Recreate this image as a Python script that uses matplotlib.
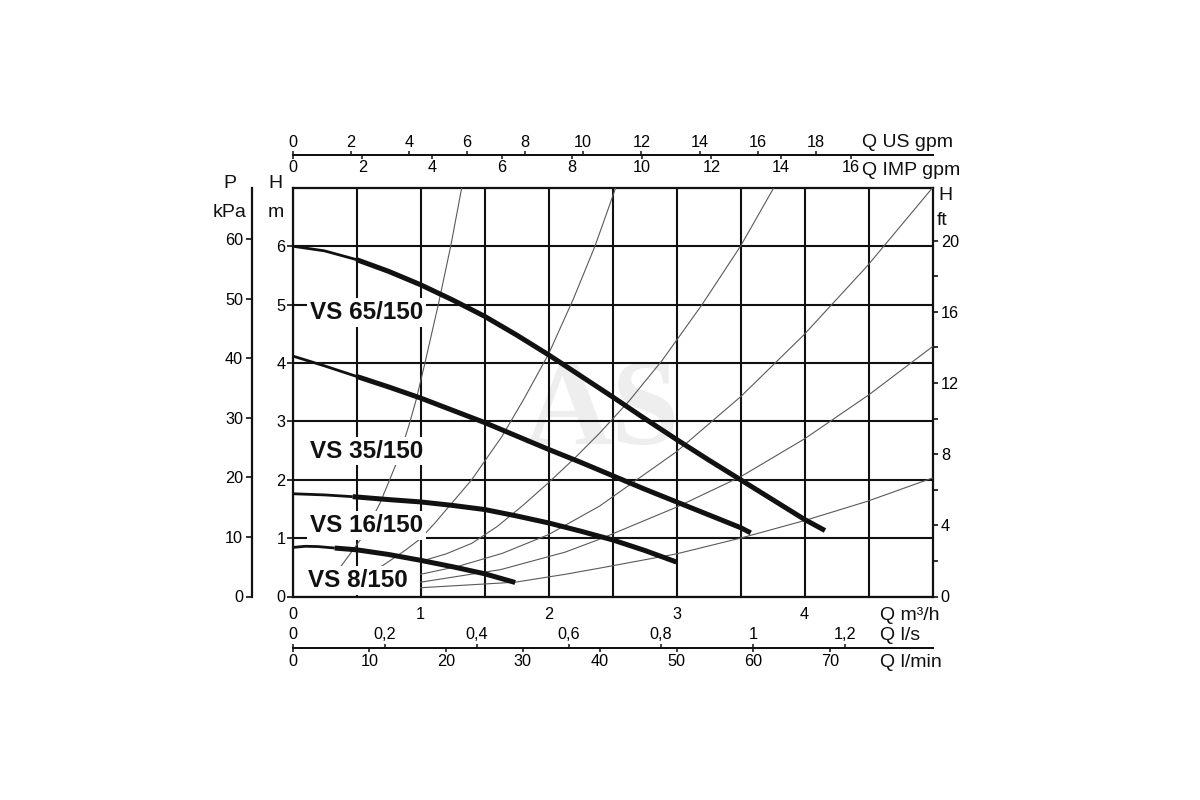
import matplotlib
matplotlib.use("Agg")
import matplotlib.pyplot as plt

plt.rcParams['font.family'] = ['Liberation Sans', 'DejaVu Sans']

# ---------------- data (Q in m3/h, H in m) ----------------
pump_names = ["VS 65/150", "VS 35/150", "VS 16/150", "VS 8/150"]

vs65_q = [0, 0.25, 0.5, 0.75, 1.0, 1.25, 1.5, 1.75, 2.0, 2.25, 2.5, 2.75, 3.0, 3.25, 3.5, 3.75, 4.0, 4.16]
vs65_h = [6.0, 5.92, 5.77, 5.57, 5.34, 5.08, 4.80, 4.48, 4.14, 3.78, 3.42, 3.05, 2.69, 2.34, 2.0, 1.66, 1.32, 1.13]

vs35_q = [0, 0.25, 0.5, 0.75, 1.0, 1.25, 1.5, 1.75, 2.0, 2.25, 2.5, 2.75, 3.0, 3.25, 3.5, 3.58]
vs35_h = [4.12, 3.95, 3.77, 3.59, 3.40, 3.19, 2.98, 2.75, 2.52, 2.30, 2.07, 1.84, 1.62, 1.40, 1.18, 1.09]

vs16_q = [0, 0.25, 0.47, 0.75, 1.0, 1.25, 1.5, 1.75, 2.0, 2.25, 2.5, 2.75, 3.0]
vs16_h = [1.76, 1.74, 1.71, 1.66, 1.62, 1.56, 1.49, 1.38, 1.26, 1.12, 0.97, 0.79, 0.59]

vs8_q = [0, 0.1, 0.2, 0.33, 0.5, 0.75, 1.0, 1.25, 1.5, 1.74]
vs8_h = [0.84, 0.86, 0.855, 0.83, 0.80, 0.72, 0.62, 0.51, 0.39, 0.24]

thin_until = [0.5, 0.5, 0.47, 0.33]

label_q = [0.137, 0.137, 0.137, 0.123]
label_h = [4.75, 2.38, 1.11, 0.168]

# system (pipe) curves
sysA_q = [0.30, 0.40, 0.54, 0.684, 0.83, 0.908, 0.965, 1.035, 1.139, 1.236, 1.322]
sysA_h = [0.30, 0.58, 1.0, 1.60, 2.38, 2.92, 3.36, 4.0, 5.0, 6.0, 7.0]
sysB_q = [0.65, 0.766, 0.88, 1.0, 1.113, 1.40, 1.636, 1.807, 2.0, 2.195, 2.363, 2.525]
sysB_h = [0.45, 0.62, 0.79, 0.99, 1.26, 2.0, 2.74, 3.38, 4.15, 5.1, 6.0, 7.0]
sysC_q = [1.0, 1.2, 1.4, 1.6, 1.8, 2.0, 2.2, 2.4, 2.63, 2.89, 3.2, 3.5, 3.76]
sysC_h = [0.60, 0.73, 0.91, 1.20, 1.56, 1.95, 2.36, 2.80, 3.35, 4.05, 5.0, 6.0, 7.0]
sysD_q = [1.0, 1.3, 1.64, 2.0, 2.4, 3.0, 3.5, 3.99, 4.49, 5.0]
sysD_h = [0.38, 0.52, 0.74, 1.06, 1.55, 2.48, 3.42, 4.47, 5.66, 7.0]
sysE_q = [1.0, 1.625, 2.13, 2.41, 3.0, 3.5, 4.0, 4.5, 5.0]
sysE_h = [0.245, 0.46, 0.76, 0.99, 1.53, 2.05, 2.70, 3.45, 4.28]
sysF_q = [1.0, 1.74, 2.13, 2.41, 3.0, 3.5, 4.0, 4.49, 5.0]
sysF_h = [0.15, 0.245, 0.38, 0.49, 0.73, 1.0, 1.30, 1.63, 2.03]

# axis ticks
m3h_ticks = [0, 1, 2, 3, 4]
m_ticks = [0, 1, 2, 3, 4, 5, 6]
kpa_ticks = [0, 10, 20, 30, 40, 50, 60]
ft_major = [0, 4, 8, 12, 16, 20]
ft_minor = [2, 6, 10, 14, 18]
usgpm_ticks = [0, 2, 4, 6, 8, 10, 12, 14, 16, 18]
impgpm_ticks = [0, 2, 4, 6, 8, 10, 12, 14, 16]
ls_ticks = [0, 0.2, 0.4, 0.6, 0.8, 1.0, 1.2]
ls_labels = ["0", "0,2", "0,4", "0,6", "0,8", "1", "1,2"]
lmin_ticks = [0, 10, 20, 30, 40, 50, 60, 70]

# ---------------- figure ----------------
W, H = 1200, 800
fig = plt.figure(figsize=(12, 8), dpi=100)
x0, x1 = 292.5, 932.5
y0, y1 = 596.5, 187.8
ax = fig.add_axes([x0 / W, 1 - y0 / H, (x1 - x0) / W, (y0 - y1) / H])
ax.set_xlim(0, 5)
ax.set_ylim(0, 7)

BLACK = '#111111'
TICK_FS = 11.7
UNIT_FS = 14

ax.set_xticks(m3h_ticks)
ax.set_xticks([0.5, 1.5, 2.5, 3.5, 4.5], minor=True)
ax.set_yticks(m_ticks)
ax.grid(True, which='both', color=BLACK, lw=1.5)
ax.set_axisbelow(False)
for s in ax.spines.values():
    s.set_color(BLACK)
    s.set_linewidth(1.6)
ax.tick_params(axis='x', which='both', length=0, pad=7.5, labelsize=TICK_FS)
ax.tick_params(axis='y', which='major', length=4, width=1.2, pad=1,
               labelsize=TICK_FS, color=BLACK)

# watermark
ax.text(2.42, 2.62, "AS", fontsize=88, fontweight='bold', color='#eeeeee',
        family=['Liberation Serif', 'DejaVu Serif'], ha='center', va='baseline', zorder=0.5)

# system curves
for q, h in [(sysA_q, sysA_h), (sysB_q, sysB_h), (sysC_q, sysC_h),
             (sysD_q, sysD_h), (sysE_q, sysE_h), (sysF_q, sysF_h)]:
    ax.plot(q, h, color='#5a5a5a', lw=0.8, zorder=3, solid_joinstyle='round')

# pump curves
pumps = [(vs65_q, vs65_h), (vs35_q, vs35_h), (vs16_q, vs16_h), (vs8_q, vs8_h)]
for (q, h), split in zip(pumps, thin_until):
    i = q.index(split)
    ax.plot(q[:i + 1], h[:i + 1], color=BLACK, lw=2.0, zorder=6, solid_capstyle='butt')
    ax.plot(q[i:], h[i:], color=BLACK, lw=3.6, zorder=6, solid_capstyle='butt',
            solid_joinstyle='round')

# pump labels with white boxes
for name, lq, lh in zip(pump_names, label_q, label_h):
    ax.text(lq, lh, name, fontsize=17.5, fontweight='bold', color=BLACK,
            ha='left', va='baseline', zorder=5,
            bbox=dict(boxstyle='square,pad=0.12', fc='white', ec='none'))

# ---------------- secondary axes ----------------
G = 9.80665
kpa = ax.secondary_yaxis((252 - x0) / (x1 - x0),
                         functions=(lambda h: h * G, lambda p: p / G))
kpa.set_yticks(kpa_ticks)
kpa.spines['left'].set_color(BLACK)
kpa.spines['left'].set_linewidth(1.6)
kpa.tick_params(length=4, width=1.2, pad=2.5, labelsize=TICK_FS, color=BLACK)

ft = ax.secondary_yaxis('right', functions=(lambda h: h / 0.3048, lambda f: f * 0.3048))
ft.set_yticks(ft_major)
ft.set_yticks(ft_minor, minor=True)
ft.spines['right'].set_visible(False)
ft.tick_params(which='both', length=3.5, width=1.2, pad=2.5, labelsize=TICK_FS, color=BLACK)

top_loc = (y0 - 155) / (y0 - y1)
us = ax.secondary_xaxis(top_loc, functions=(lambda q: q * 4.402868, lambda g: g / 4.402868))
us.set_xticks(usgpm_ticks)
us.spines['top'].set_color(BLACK)
us.spines['top'].set_linewidth(1.4)
us.tick_params(length=2.8, width=1.1, pad=0.5, labelsize=TICK_FS, color=BLACK)

imp = ax.secondary_xaxis(top_loc, functions=(lambda q: q * 3.666154, lambda g: g / 3.666154))
imp.set_alignment('bottom')
imp.set_xticks(impgpm_ticks)
imp.spines['bottom'].set_color(BLACK)
imp.spines['bottom'].set_linewidth(1.4)
imp.tick_params(length=2.8, width=1.1, pad=1.0, labelsize=TICK_FS, color=BLACK)

bot_loc = (y0 - 647.7) / (y0 - y1)
lmin = ax.secondary_xaxis(bot_loc, functions=(lambda q: q / 0.06, lambda l: l * 0.06))
lmin.set_xticks(lmin_ticks)
lmin.spines['bottom'].set_color(BLACK)
lmin.spines['bottom'].set_linewidth(1.4)
lmin.tick_params(length=3, width=1.1, pad=1.5, labelsize=TICK_FS, color=BLACK)

ls = ax.secondary_xaxis(bot_loc, functions=(lambda q: q / 3.6, lambda l: l * 3.6))
ls.set_alignment('top')
ls.set_xticks(ls_ticks, labels=ls_labels)
ls.spines['top'].set_color(BLACK)
ls.spines['top'].set_linewidth(1.4)
ls.tick_params(length=3, width=1.1, pad=1.0, labelsize=TICK_FS, color=BLACK)

# ---------------- unit labels ----------------
def ftxt(x, y, s, ha='left', **kw):
    fig.text(x / W, 1 - y / H, s, ha=ha, va='baseline', fontsize=UNIT_FS, color=BLACK, **kw)

ftxt(230, 188.3, "P", ha='center')
ftxt(230, 216.7, "kPa", ha='center')
ftxt(275, 188.3, "H", ha='center')
ftxt(276, 216.7, "m", ha='center')
ftxt(938, 200, "H")
ftxt(937, 225, "ft")
ftxt(861.7, 146.7, "Q US gpm")
ftxt(861.7, 175, "Q IMP gpm")
ftxt(880, 620, "Q m\u00b3/h")
ftxt(880, 640, "Q l/s")
ftxt(880, 667.3, "Q l/min")

fig.savefig("out.png", dpi=100, facecolor='white')
